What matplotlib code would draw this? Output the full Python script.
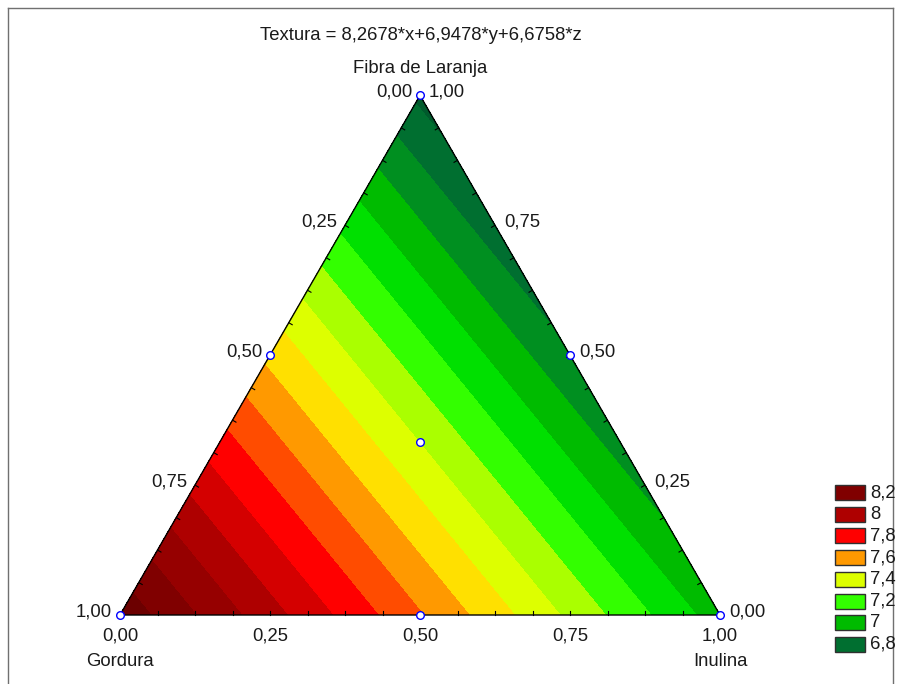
import numpy as np
import matplotlib
matplotlib.use("Agg")
import matplotlib.pyplot as plt
import matplotlib.tri as mtri
from matplotlib.patches import Rectangle
from matplotlib.lines import Line2D

plt.rcParams['font.family'] = ['Liberation Sans', 'DejaVu Sans']

# model: Textura = 8,2678*x + 6,9478*y + 6,6758*z
components = ["Gordura", "Inulina", "Fibra de Laranja"]
coefs = [8.2678, 6.9478, 6.6758]
title = "Textura = 8,2678*x+6,9478*y+6,6758*z"

# contour levels and band colours (lowest band first)
levels = [6.6, 6.7, 6.8, 6.9, 7.0, 7.1, 7.2, 7.3, 7.4, 7.5, 7.6, 7.7, 7.8, 7.9, 8.0, 8.1, 8.2, 8.3]
band_colors = ["#005a2c", "#006f30", "#008f20", "#00bb00", "#00e000", "#33ff00",
               "#aaff00", "#ddff00", "#ffe000", "#ff9900", "#ff4c00", "#ff0000",
               "#d40000", "#ae0000", "#960000", "#800000", "#6c0000"]
legend_values = [8.2, 8.0, 7.8, 7.6, 7.4, 7.2, 7.0, 6.8]

# design points (gordura, inulina, fibra) - simplex centroid
design = [(1, 0, 0), (0, 1, 0), (0, 0, 1), (0.5, 0.5, 0), (0.5, 0, 0.5), (0, 0.5, 0.5),
          (1/3, 1/3, 1/3)]
tick_vals = [0.0, 0.25, 0.5, 0.75, 1.0]

W, H = 899, 684
h = np.sqrt(3) / 2


def cart(g, i, f):
    # gordura bottom-left, inulina bottom-right, fibra top
    return i + 0.5 * f, h * f


def fpx(x, y):
    return x / W, 1 - y / H


def lab(v):
    return f"{v:.2f}".replace(".", ",")


fig = plt.figure(figsize=(W / 100, H / 100), dpi=100)
ax = fig.add_axes([0, 0, 1, 1])
ax.set_xlim(-120 / 600, 779 / 600)
ax.set_ylim(-69 / 600, 615 / 600)
ax.axis("off")

# grid over the simplex
n = 120
G, I, F = [], [], []
for a in range(n + 1):
    for b in range(n + 1 - a):
        G.append(a / n)
        F.append(b / n)
        I.append(1 - a / n - b / n)
G, I, F = np.array(G), np.array(I), np.array(F)
X, Y = cart(G, I, F)
Z = coefs[0] * G + coefs[1] * I + coefs[2] * F
tri = mtri.Triangulation(X, Y)
ax.tricontourf(tri, Z, levels=levels, colors=band_colors, antialiased=False)

# outline
corners = [cart(1, 0, 0), cart(0, 1, 0), cart(0, 0, 1), cart(1, 0, 0)]
ax.plot([c[0] for c in corners], [c[1] for c in corners], color="black", lw=1.0, zorder=3)

# small inward ticks every 1/16
tl = 4 / 600
for k in range(1, 16):
    t = k / 16
    x0, y0 = cart(1 - t, t, 0)
    ax.plot([x0, x0], [y0, y0 + tl], color="black", lw=0.8, zorder=3)
    x0, y0 = cart(1 - t, 0, t)
    ax.plot([x0, x0 + tl * h], [y0, y0 - tl * 0.5], color="black", lw=0.8, zorder=3)
    x0, y0 = cart(0, 1 - t, t)
    ax.plot([x0, x0 - tl * h], [y0, y0 - tl * 0.5], color="black", lw=0.8, zorder=3)

# design points
for p in design:
    x0, y0 = cart(*p)
    ax.plot(x0, y0, "o", ms=5.5, mfc="white", mec="#0000ff", mew=1.0, zorder=4, clip_on=False)

fs = 13.3
tc = "#1a1a1a"
px = 1 / 600
for v in tick_vals:
    # bottom: inulina
    x0, y0 = cart(1 - v, v, 0)
    ax.text(x0, y0 - 21 * px, lab(v), ha="center", va="center", fontsize=fs, color=tc)
    # left: gordura
    x0, y0 = cart(v, 0, 1 - v)
    ax.text(x0 - 8 * px, y0 + 3 * px, lab(v), ha="right", va="center", fontsize=fs, color=tc)
    # right: fibra
    x0, y0 = cart(0, 1 - v, v)
    ax.text(x0 + 9 * px, y0 + 3 * px, lab(v), ha="left", va="center", fontsize=fs, color=tc)

x0, y0 = cart(1, 0, 0)
ax.text(x0, y0 - 47 * px, components[0], ha="center", va="center", fontsize=fs, color=tc)
x0, y0 = cart(0, 1, 0)
ax.text(x0, y0 - 47 * px, components[1], ha="center", va="center", fontsize=fs, color=tc)
x0, y0 = cart(0, 0, 1)
ax.text(x0, y0 + 27 * px, components[2], ha="center", va="center", fontsize=fs, color=tc)

fig.text(*fpx(421, 35), title, ha="center", va="center", fontsize=fs, color=tc)

# legend
for k, v in enumerate(legend_values):
    col = band_colors[levels.index(v) - 1]
    top = 485 + k * 21.7
    fx, fy = fpx(835, top + 15)
    fig.patches.append(Rectangle((fx, fy), 30 / W, 15 / H, transform=fig.transFigure,
                                 facecolor=col, edgecolor="#303030", lw=1.0))
    fig.text(*fpx(870, top + 7.5), f"{v:g}".replace(".", ","), ha="left", va="center",
             fontsize=fs, color=tc)

# outer frame
for (xa, ya), (xb, yb) in [((8, 8), (893, 8)), ((8, 8), (8, 684)), ((893, 8), (893, 684))]:
    (fxa, fya), (fxb, fyb) = fpx(xa, ya), fpx(xb, yb)
    fig.lines.append(Line2D([fxa, fxb], [fya, fyb], transform=fig.transFigure,
                            color="#707070", lw=1.0))

fig.savefig("out.png", dpi=100)
